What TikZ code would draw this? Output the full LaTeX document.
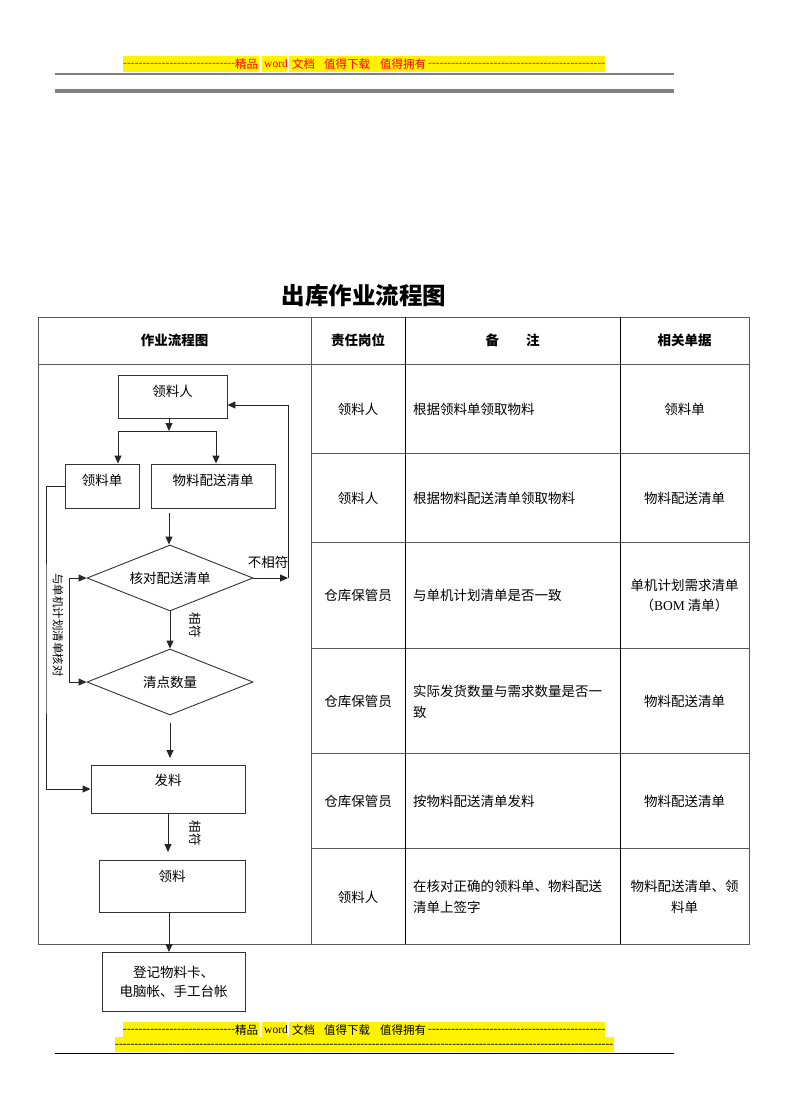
\documentclass[tikz,border=0pt]{standalone}
\usepackage{fontspec}
\setmainfont{Liberation Serif}
\newfontfamily\cjk{Noto Sans CJK SC}
\usetikzlibrary{arrows.meta,shapes.geometric}
\begin{document}
\begin{tikzpicture}[x=1pt,y=-1pt,
  font=\cjk\fontsize{13.5}{16}\selectfont,
  box/.style={draw=black!80, line width=0.9pt, inner sep=0pt},
  dia/.style={diamond, draw=black!80, line width=0.9pt, aspect=2.5, inner sep=0pt, minimum width=166pt, minimum height=66pt},
  arr/.style={draw=black!85, line width=0.9pt, -{Triangle[length=8pt,width=7pt]}},
  ln/.style={draw=black!85, line width=0.9pt},
  tline/.style={draw=black!65, line width=1pt},
  cline/.style={draw=black, line width=0.8pt},
  lbl/.style={inner sep=0pt},
  hdr/.style={inner sep=0pt, font=\cjk\bfseries\fontsize{13.5}{16}\selectfont},
  small/.style={inner sep=0pt, anchor=west, font=\cjk\fontsize{11.5}{13}\selectfont},
  dashtxt/.style={inner sep=0pt, anchor=west, font=\rmfamily\fontsize{11.5}{13}\selectfont}
]
\useasboundingbox (0,0) rectangle (792,1120);
\fill[white] (0,0) rectangle (792,1120);

% ---------- header ----------
\fill[yellow] (123,56) rectangle (259,72);
\fill[yellow] (262,56) rectangle (287,72);
\fill[yellow] (289,56) rectangle (605,72);
\begin{scope}[text=red]
\node[dashtxt] (hd1) at (123,65) {\hbox to 112pt{\xleaders\hbox{-}\hfill}};
\node[small] (hd2) at (235,64) {精品};
\node[dashtxt] (hd3) at (264,64) {word};
\node[small] (hd4) at (292,64) {文档};
\node[small] (hd5) at (324,64) {值得下载};
\node[small] (hd6) at (380,64) {值得拥有};
\node[dashtxt] (hd7) at (428,65) {\hbox to 177pt{\xleaders\hbox{-}\hfill}};
\end{scope}
\draw[black!50, line width=2pt] (55,74) -- (674,74);
\draw[black!50, line width=3.7pt] (55,91) -- (674,91);

% ---------- title ----------
\node[inner sep=0pt, font=\cjk\bfseries\fontsize{23.5}{26}\selectfont] (title) at (364,296) {出库作业流程图};

% ---------- table ----------
\draw[tline] (38,317) rectangle (749,944);
\draw[tline] (38,364) -- (749,364);
\foreach \yy in {453,542,648,753,848} \draw[tline] (311,\yy) -- (749,\yy);
\draw[tline] (311,317) -- (311,944);
\draw[cline] (405,317) -- (405,944);
\draw[cline] (620,317) -- (620,944);

\node[hdr] (h1) at (174.5,340) {作业流程图};
\node[hdr] (h2) at (358,340) {责任岗位};
\node[hdr] (h3) at (512.5,340) {备\hspace{2em}注};
\node[hdr] (h4) at (684.5,340) {相关单据};

% row 1
\node[lbl] (r1a) at (358,409) {领料人};
\node[lbl,anchor=west] (r1b) at (413,409) {根据领料单领取物料};
\node[lbl] (r1c) at (684.5,409) {领料单};
% row 2
\node[lbl] (r2a) at (358,498) {领料人};
\node[lbl,anchor=west] (r2b) at (413,498) {根据物料配送清单领取物料};
\node[lbl] (r2c) at (684.5,498) {物料配送清单};
% row 3
\node[lbl] (r3a) at (358,595) {仓库保管员};
\node[lbl,anchor=west] (r3b) at (413,595) {与单机计划清单是否一致};
\node[lbl] (r3c) at (684.5,585) {单机计划需求清单};
\node[lbl] (r3d) at (684.5,605) {（{\rmfamily BOM} 清单）};
% row 4
\node[lbl] (r4a) at (358,701) {仓库保管员};
\node[lbl,anchor=west] (r4b) at (413,691) {实际发货数量与需求数量是否一};
\node[lbl,anchor=west] (r4c) at (413,712) {致};
\node[lbl] (r4d) at (684.5,701) {物料配送清单};
% row 5
\node[lbl] (r5a) at (358,801) {仓库保管员};
\node[lbl,anchor=west] (r5b) at (413,801) {按物料配送清单发料};
\node[lbl] (r5c) at (684.5,801) {物料配送清单};
% row 6
\node[lbl] (r6a) at (358,897) {领料人};
\node[lbl,anchor=west] (r6b) at (413,886) {在核对正确的领料单、物料配送};
\node[lbl,anchor=west] (r6c) at (413,907) {清单上签字};
\node[lbl] (r6d) at (684.5,886) {物料配送清单、领};
\node[lbl] (r6e) at (684.5,907) {料单};

% ---------- flowchart ----------
\node[box, minimum width=109pt, minimum height=43pt] (lr) at (172.5,396.5) {};
\node[lbl] (lrt) at (172.5,391) {领料人};
\node[box, minimum width=74pt, minimum height=44pt] (lld) at (102,486) {};
\node[lbl] (lldt) at (102,480) {领料单};
\node[box, minimum width=124pt, minimum height=44pt] (wl) at (213,486) {};
\node[lbl] (wlt) at (213,480) {物料配送清单};
\node[dia] (d1) at (170,578) {核对配送清单};
\node[dia] (d2) at (170,682) {清点数量};
\node[box, minimum width=154pt, minimum height=48pt] (fl) at (168,789) {};
\node[lbl] (flt) at (168,780) {发料};
\node[box, minimum width=146pt, minimum height=52pt] (ll) at (172,886) {};
\node[lbl] (llt) at (172,876) {领料};
\node[box, minimum width=143pt, minimum height=59pt, align=center, font=\cjk\fontsize{13.5}{19}\selectfont] (dj) at (173.5,981.5) {登记物料卡、\\电脑帐、手工台帐};

% coordinates
\coordinate (j1) at (169,431);
\coordinate (j2) at (118,431);
\coordinate (j3) at (216,431);
\coordinate (s1) at (169,513);
\coordinate (c1) at (46,640);
\coordinate (l1) at (69,578);
\coordinate (lm) at (69,630);
\coordinate (l2) at (69,682);
\coordinate (q1) at (288,578);
\coordinate (q2) at (288,405);
\coordinate (s2) at (170,723);
\coordinate (e2) at (170,758);
\coordinate (e3) at (168,852);
\coordinate (e4) at (169,952);

% connectors
\draw[arr] (lr.south -| j1) -- (j1);
\draw[ln] (j2) -- (j3);
\draw[arr] (j2) -- (j2 |- lld.north);
\draw[arr] (j3) -- (j3 |- wl.north);
\draw[arr] (s1) -- (s1 |- d1.north);
\draw[arr] (d1.south) -- (d2.north);
\draw[arr] (d1.east) -- (q1);
\draw[arr] (q1) -- (q2) -- (q2 -| lr.east);
\draw[arr] (lld.west) -| (c1) |- (fl.west);
\draw[arr] (lm) -- (l1) -- (d1.west);
\draw[arr] (lm) -- (l2) -- (d2.west);
\draw[arr] (s2) -- (e2);
\draw[arr] (fl.south) -- (e3);
\draw[arr] (ll.south -| e4) -- (e4);

% labels
\node[lbl] (nx) at (268,562) {不相符};
\node[lbl, rotate=-90, font=\cjk\fontsize{12.5}{14}\selectfont] (xf1) at (195,625) {相符};
\node[lbl, rotate=-90, font=\cjk\fontsize{12.5}{14}\selectfont] (xf2) at (195,833) {相符};
\node[lbl, rotate=-90, font=\cjk\fontsize{11.5}{13}\selectfont] (yd) at (58,625) {与单机计划清单核对};

% ---------- footer ----------
\fill[yellow] (123,1022) rectangle (259,1037);
\fill[yellow] (262,1022) rectangle (287,1037);
\fill[yellow] (289,1022) rectangle (605,1037);
\fill[yellow] (115,1037) rectangle (614,1052);
\node[dashtxt] (fd1) at (123,1031) {\hbox to 112pt{\xleaders\hbox{-}\hfill}};
\node[small] (fd2) at (235,1030) {精品};
\node[dashtxt] (fd3) at (264,1030) {word};
\node[small] (fd4) at (292,1030) {文档};
\node[small] (fd5) at (324,1030) {值得下载};
\node[small] (fd6) at (380,1030) {值得拥有};
\node[dashtxt] (fd7) at (428,1031) {\hbox to 177pt{\xleaders\hbox{-}\hfill}};
\node[dashtxt] (fd8) at (115,1046) {\hbox to 498pt{\xleaders\hbox{-}\hfill}};
\draw[black, line width=1pt] (55,1053) -- (674,1053);
\end{tikzpicture}
\end{document}
